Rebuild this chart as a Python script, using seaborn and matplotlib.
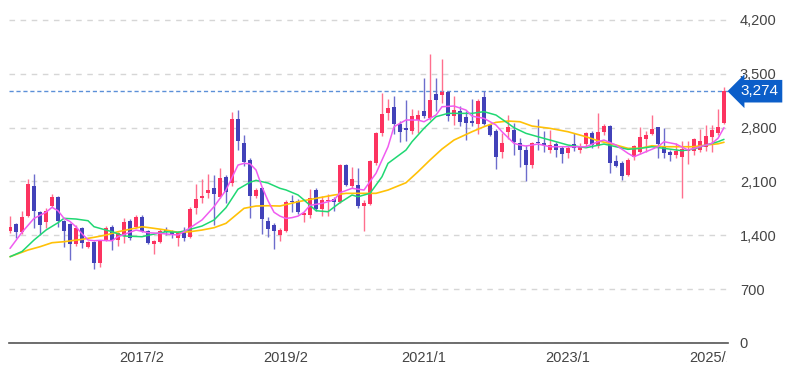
import numpy as np
import pandas as pd
import matplotlib
matplotlib.use("Agg")
import matplotlib.pyplot as plt
import seaborn as sns
from matplotlib.transforms import Bbox, blended_transform_factory

# monthly candles, 2015/4 .. 2025/3
months = [f"{d.year}/{d.month}" for d in pd.date_range("2015-04-01", periods=120, freq="MS")]
tick_labels = ["2017/2", "2019/2", "2021/1", "2023/1", "2025/1"]
y_ticks = [0, 700, 1400, 2100, 2800, 3500, 4200]
last_price = 3274

opens = [1456, 1547, 1440, 1656, 2042, 1703, 1569, 1786, 1903, 1591,
         1547, 1283, 1491, 1253, 1318, 1045, 1330, 1513, 1339, 1391,
         1591, 1513, 1643, 1461, 1287, 1318, 1470, 1440, 1361, 1448,
         1374, 1751, 1886, 1955, 2011, 1903, 2163, 2080, 2913, 2605,
         2380, 1916, 2011, 1591, 1534, 1404, 1461, 1847, 1847, 1665,
         1665, 1985, 1742, 1842, 1873, 1829, 2320, 2046, 2059, 1777,
         1807, 2341, 2732, 2992, 3066, 2845, 2797, 2762, 2905, 3023,
         2927, 3240, 3231, 3261, 2949, 3014, 2936, 2884, 2849, 3200,
         2832, 2762, 2484, 2740, 2770, 2596, 2509, 2313, 2617, 2600,
         2510, 2590, 2530, 2465, 2587, 2509, 2587, 2726, 2565, 2748,
         2822, 2361, 2339, 2187, 2417, 2478, 2652, 2722, 2809, 2565,
         2478, 2448, 2417, 2491, 2491, 2513, 2548, 2678, 2730, 2861]
highs = [1650, 1560, 1717, 2133, 2198, 1720, 1760, 1933, 1910, 1600,
         1560, 1534, 1510, 1330, 1330, 1340, 1520, 1530, 1440, 1630,
         1610, 1660, 1660, 1475, 1340, 1480, 1513, 1470, 1450, 1513,
         1773, 2063, 2133, 2198, 2185, 2280, 2185, 3000, 3030, 2710,
         2400, 2010, 2030, 1643, 1560, 1490, 1860, 1925, 1870, 1700,
         2000, 2016, 1907, 1938, 1894, 2330, 2330, 2289, 2276, 1864,
         2380, 2750, 3253, 3179, 3218, 2883, 3166, 3049, 3036, 3448,
         3760, 3448, 3695, 3283, 3209, 3079, 3014, 3175, 3175, 3274,
         2850, 2780, 2732, 2965, 2856, 2661, 2574, 2617, 2909, 2760,
         2765, 2610, 2560, 2560, 2726, 2600, 2750, 2760, 2987, 2850,
         2830, 2450, 2360, 2400, 2580, 2809, 2760, 2970, 2809, 2796,
         2513, 2600, 2622, 2622, 2665, 2783, 2839, 2834, 3043, 3330]
lows = [1430, 1370, 1420, 1640, 1491, 1404, 1500, 1770, 1504, 1253,
        1079, 1260, 1240, 1240, 958, 990, 1320, 1209, 1266, 1296,
        1340, 1500, 1440, 1290, 1157, 1300, 1400, 1360, 1266, 1330,
        1360, 1673, 1816, 1881, 1534, 1880, 1825, 2040, 2510, 2300,
        1621, 1880, 1421, 1383, 1223, 1326, 1440, 1708, 1680, 1578,
        1620, 1712, 1647, 1655, 1720, 1820, 2040, 2020, 1760, 1452,
        1790, 2320, 2688, 2900, 2719, 2610, 2623, 2720, 2732, 2930,
        2900, 3014, 3122, 2884, 2840, 2819, 2645, 2819, 2719, 2830,
        2690, 2268, 2406, 2650, 2443, 2283, 2101, 2270, 2509, 2480,
        2465, 2420, 2335, 2400, 2500, 2470, 2560, 2530, 2530, 2700,
        2204, 2290, 2113, 2170, 2380, 2460, 2480, 2700, 2400, 2404,
        2361, 2400, 1883, 2326, 2450, 2490, 2500, 2490, 2700, 2850]
closes = [1513, 1448, 1643, 2068, 1721, 1534, 1716, 1894, 1591, 1461,
          1283, 1500, 1305, 1318, 1045, 1330, 1500, 1339, 1426, 1569,
          1361, 1643, 1461, 1305, 1322, 1461, 1440, 1404, 1435, 1361,
          1738, 1877, 1916, 1990, 1933, 2141, 1968, 2913, 2631, 2358,
          1916, 1990, 1608, 1478, 1456, 1470, 1838, 1829, 1708, 1686,
          1880, 1742, 1864, 1855, 1829, 2320, 2059, 2133, 1777, 1820,
          2363, 2732, 2979, 3057, 2853, 2740, 2775, 2949, 2970, 2949,
          3166, 3166, 3261, 2949, 3036, 2875, 2862, 2862, 3144, 2849,
          2710, 2415, 2597, 2805, 2617, 2509, 2313, 2596, 2596, 2570,
          2574, 2510, 2457, 2530, 2530, 2565, 2726, 2574, 2748, 2822,
          2343, 2304, 2174, 2383, 2565, 2678, 2709, 2783, 2591, 2470,
          2448, 2491, 2526, 2513, 2652, 2622, 2687, 2765, 2809, 3274]

# moving averages (month index, value)
ma_short_idx = [0, 2, 4, 6, 7, 8, 9, 10, 11, 12, 13, 14, 15, 17, 18, 21, 23, 25, 27, 28,
                29, 32, 34, 36, 38, 39, 40, 41, 42, 43, 44, 45, 46, 47, 48, 49, 50, 52, 54, 55,
                57, 59, 60, 61, 63, 64, 66, 68, 69, 71, 72, 74, 76, 77, 79, 81, 82, 84, 85, 86,
                88, 90, 93, 96, 98, 99, 101, 103, 104, 106, 108, 109, 111, 113, 115, 117, 118, 119]
ma_short = [1230, 1440, 1620, 1700, 1764, 1720, 1620, 1580, 1510, 1420, 1340, 1330, 1335, 1330, 1382, 1469, 1434, 1426, 1410, 1404,
            1447, 1600, 1772, 1989, 2314, 2336, 2330, 2250, 2030, 1850, 1700, 1650, 1620, 1630, 1650, 1700, 1790, 1816, 1859, 1954,
            2011, 1989, 2100, 2206, 2552, 2812, 2900, 2899, 2877, 2964, 3072, 3081, 3029, 2950, 2921, 2834, 2747, 2596, 2574, 2561,
            2587, 2552, 2552, 2552, 2617, 2639, 2574, 2466, 2422, 2487, 2552, 2617, 2587, 2509, 2552, 2596, 2661, 2800]
ma_mid_idx = [0, 2, 4, 6, 8, 9, 11, 13, 14, 17, 19, 22, 23, 26, 28, 29, 32, 34, 36, 38,
              40, 41, 43, 45, 46, 48, 49, 51, 53, 55, 57, 58, 60, 62, 63, 66, 67, 69, 71, 73,
              77, 79, 81, 83, 84, 86, 88, 90, 93, 96, 99, 101, 103, 105, 107, 109, 112, 114, 116, 118, 119]
ma_mid = [1122, 1190, 1339, 1469, 1564, 1621, 1612, 1590, 1512, 1447, 1391, 1382, 1400, 1447, 1440, 1456, 1521, 1599, 1760, 2000,
          2090, 2115, 2080, 2011, 1990, 1925, 1860, 1720, 1707, 1825, 1924, 1902, 1946, 2162, 2336, 2509, 2617, 2791, 2942, 2986,
          2986, 3008, 2964, 2856, 2800, 2726, 2682, 2639, 2574, 2539, 2587, 2552, 2518, 2531, 2552, 2531, 2500, 2522, 2574, 2617, 2648]
ma_long_idx = [0, 3, 5, 7, 9, 12, 14, 16, 18, 21, 22, 24, 26, 28, 30, 32, 34, 36, 38, 39,
               41, 43, 45, 48, 51, 54, 56, 61, 63, 66, 68, 70, 72, 74, 77, 79, 81, 83, 85, 87,
               90, 93, 96, 98, 101, 103, 105, 107, 109, 114, 116, 118, 119]
ma_long = [1122, 1209, 1252, 1304, 1317, 1348, 1374, 1404, 1447, 1495, 1512, 1491, 1469, 1439, 1447, 1469, 1499, 1556, 1686, 1751,
           1781, 1785, 1781, 1837, 1881, 1924, 1946, 1946, 1989, 2084, 2227, 2379, 2522, 2639, 2747, 2812, 2869, 2886, 2877, 2821,
           2791, 2747, 2682, 2630, 2574, 2531, 2531, 2565, 2552, 2552, 2574, 2590, 2610]

RED, BLUE = "#fc3360", "#4242b9"
RED_WICK, BLUE_WICK = "#ff6f8e", "#6d6dcc"

sns.set_theme(style="white")
plt.rcParams['font.family'] = ['Liberation Sans', 'DejaVu Sans']

fig = plt.figure(figsize=(8.1, 3.78), dpi=100)
ax = fig.add_axes([9 / 810, 35 / 378, 719 / 810, 330.7 / 378])

o = np.array(opens)
h = np.array(highs)
l = np.array(lows)
c = np.array(closes)
x = np.arange(len(months))
up = c >= o

# wicks first, bodies on top
ax.vlines(x, l, h, colors=np.where(up, RED_WICK, BLUE_WICK), lw=1, zorder=2)
ax.bar(x, np.maximum(np.abs(c - o), 12), bottom=np.minimum(o, c), width=0.8,
       color=np.where(up, RED, BLUE), linewidth=0, zorder=3)

# moving averages
sns.lineplot(x=ma_long_idx, y=ma_long, ax=ax, color="#ffc107", lw=1.2, zorder=4)
sns.lineplot(x=ma_mid_idx, y=ma_mid, ax=ax, color="#1fd873", lw=1.1, zorder=5)
sns.lineplot(x=ma_short_idx, y=ma_short, ax=ax, color="#f05cf0", lw=1.1, zorder=6)

# last price line and tag
ax.axhline(last_price, color="#5c90d8", ls=(0, (3, 2)), lw=1, zorder=1)
ax.text(1.0167, last_price, f"{last_price:,}",
        transform=blended_transform_factory(ax.transAxes, ax.transData),
        ha="left", va="center", color="white", fontsize=11, clip_on=False,
        bbox=dict(boxstyle="larrow,pad=0.28", fc="#0b5ec9", ec="none"))

ax.set_xlim(-0.17, 119.67)
ax.set_ylim(0, 4300)

ax.yaxis.tick_right()
ax.set_yticks(y_ticks)
ax.set_yticklabels([f"{v:,}" for v in y_ticks])
ax.set_xticks([months.index(t) for t in tick_labels])
ax.set_xticklabels(tick_labels)
ax.tick_params(axis="y", length=0, pad=8.5, labelsize=10.5, colors="#444444")
ax.tick_params(axis="x", length=0, pad=6, labelsize=10.5, colors="#444444")
ax.set_xlabel("")
ax.set_ylabel("")

ax.grid(axis="y", color="#d6d6d6", ls=(0, (4, 4)), lw=1)
ax.grid(axis="x", visible=False)
for side in ["left", "right", "top"]:
    ax.spines[side].set_visible(False)
ax.spines["bottom"].set_color("#555555")
ax.spines["bottom"].set_linewidth(1.2)

# last x label is cut at the plot's right edge
for lab in ax.get_xticklabels():
    lab.set_clip_on(True)
    lab.set_clip_box(Bbox.from_extents(0, 0, 727, 378))

fig.savefig("out.png", dpi=100)
